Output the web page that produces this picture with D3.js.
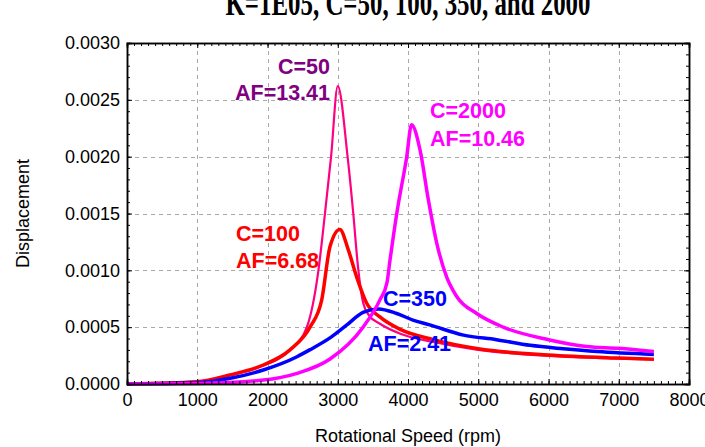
<!DOCTYPE html>
<html>
<head>
<meta charset="utf-8">
<script src="https://cdn.jsdelivr.net/npm/d3@7"></script>
<style>
  body { margin: 0; background: #fff; }
  text { font-family: "Liberation Sans", Arial, sans-serif; }
</style>
</head>
<body>
<div class="chart"></div>
<script>
// values (rpm, displacement)
var rpm50  = [0, 1000, 1370, 1895, 2320, 2560, 2725, 2818, 2905, 3000, 3140, 3221, 3285, 3363, 3450, 3600, 3900, 4360, 5000, 6000, 7000, 7500];
var disp50 = [0, 0.00002, 0.000064, 0.000152, 0.0003, 0.0005, 0.001, 0.0015, 0.002, 0.00262, 0.002, 0.0015, 0.00105, 0.00071, 0.0006, 0.00053, 0.00044, 0.00037, 0.0003, 0.000248, 0.000224, 0.000216];

var rpm100  = [0, 992, 1465, 1940, 2320, 2605, 2772, 2890, 3030, 3150, 3270, 3412, 3600, 3890, 4360, 5000, 6000, 7000, 7500];
var disp100 = [0, 0.00002, 0.00008, 0.000167, 0.0003, 0.0005, 0.00074, 0.00121, 0.00136, 0.00118, 0.00094, 0.00071, 0.00059, 0.00048, 0.00039, 0.00031, 0.000255, 0.000228, 0.000218];

var rpm350  = [0, 992, 1470, 1940, 2420, 2600, 2900, 3130, 3360, 3580, 3840, 4080, 4310, 4790, 5260, 5740, 6210, 6690, 7500];
var disp350 = [0, 0.00001, 0.00005, 0.000123, 0.00024, 0.0003, 0.00041, 0.00052, 0.00063, 0.00066, 0.00062, 0.00056, 0.00052, 0.00043, 0.00039, 0.00034, 0.00031, 0.000285, 0.00026];

var rpm2000  = [0, 1000, 1940, 2420, 2890, 3360, 3600, 3700, 3744, 3840, 3982, 4050, 4171, 4290, 4409, 4551, 4693, 4978, 5357, 6000, 6544, 7000, 7500];
var disp2000 = [0, 0.000005, 0.000035, 0.000094, 0.00022, 0.0005, 0.00074, 0.00089, 0.00109, 0.0015, 0.002, 0.00228, 0.00206, 0.00162, 0.00124, 0.00094, 0.00077, 0.00062, 0.0005, 0.00039, 0.00033, 0.000314, 0.000285];

var xTicks = [0, 1000, 2000, 3000, 4000, 5000, 6000, 7000, 8000];
var yTicks = [0, 0.0005, 0.0010, 0.0015, 0.0020, 0.0025, 0.0030];

var series = [
  { rpm: rpm50, disp: disp50, color: "#ff0080", width: 2.2 },
  { rpm: rpm100, disp: disp100, color: "#ff0000", width: 3.5 },
  { rpm: rpm350, disp: disp350, color: "#0000ff", width: 3.5 },
  { rpm: rpm2000, disp: disp2000, color: "#ff00ff", width: 3.5 }
];

var labels = [
  { lines: ["C=50", "AF=13.41"], x: 330, y: [74, 100], anchor: "end", color: "#800080" },
  { lines: ["C=2000", "AF=10.46"], x: 430, y: [118, 146], anchor: "start", color: "#ff00ff" },
  { lines: ["C=100", "AF=6.68"], x: 236, y: [241, 268], anchor: "start", color: "#ff0000" },
  { lines: ["C=350"], x: 383, y: [306], anchor: "start", color: "#0000ff" },
  { lines: ["AF=2.41"], x: 368, y: [351], anchor: "start", color: "#0000ff" }
];

var W = 705, H = 447;
var plotL = 127, plotR = 689, plotT = 43, plotB = 384;

var svg = d3.select(".chart").append("svg")
  .attr("width", W)
  .attr("height", H);

var x = d3.scaleLinear().domain([0, 8000]).range([plotL, plotR]);
var y = d3.scaleLinear().domain([0, 0.003]).range([plotB, plotT]);

// title, cut off by the top edge like the original
svg.append("text")
  .attr("x", (plotL + plotR) / 2)
  .attr("y", 15)
  .attr("text-anchor", "middle")
  .attr("textLength", 365)
  .attr("lengthAdjust", "spacingAndGlyphs")
  .style("font-family", "'Liberation Serif', 'Times New Roman', serif")
  .style("font-weight", "bold")
  .style("font-size", "36px")
  .text("K=1E05, C=50, 100, 350, and 2000");

// grid
var grid = svg.append("g")
  .attr("stroke", "#a8a8a8")
  .attr("stroke-width", 1)
  .attr("stroke-dasharray", "4,4");
grid.selectAll(".gx").data(xTicks.slice(1, -1)).enter().append("line")
  .attr("x1", d => Math.round(x(d)) + 0.5).attr("x2", d => Math.round(x(d)) + 0.5)
  .attr("y1", plotT).attr("y2", plotB);
grid.selectAll(".gy").data(yTicks.slice(1, -1)).enter().append("line")
  .attr("y1", d => Math.round(y(d)) + 0.5).attr("y2", d => Math.round(y(d)) + 0.5)
  .attr("x1", plotL).attr("x2", plotR);

// curves
var line = d3.line()
  .x(d => x(d[0]))
  .y(d => y(d[1]))
  .curve(d3.curveMonotoneX);

series.forEach(function(s) {
  svg.append("path")
    .datum(d3.zip(s.rpm, s.disp))
    .attr("fill", "none")
    .attr("stroke", s.color)
    .attr("stroke-width", s.width)
    .attr("stroke-linejoin", "round")
    .attr("d", line);
});

// axes: ticks inward on all four sides
var xMinor = d3.range(0, 8001, 100);
var yMinor = d3.range(0, 31).map(i => i * 0.0001);

svg.append("g")
  .attr("transform", "translate(0," + plotB + ")")
  .call(d3.axisBottom(x).tickValues(xMinor).tickSize(-3).tickFormat(""));
svg.append("g")
  .attr("transform", "translate(0," + plotB + ")")
  .call(d3.axisBottom(x).tickValues(xTicks).tickSize(-5).tickPadding(9).tickFormat(d3.format("d")));
svg.append("g")
  .attr("transform", "translate(0," + plotT + ")")
  .call(d3.axisTop(x).tickValues(xMinor).tickSize(-3).tickFormat(""));
svg.append("g")
  .attr("transform", "translate(0," + plotT + ")")
  .call(d3.axisTop(x).tickValues(xTicks).tickSize(-5).tickFormat(""));
svg.append("g")
  .attr("transform", "translate(" + plotL + ",0)")
  .call(d3.axisLeft(y).tickValues(yMinor).tickSize(-3).tickFormat(""));
svg.append("g")
  .attr("transform", "translate(" + plotL + ",0)")
  .call(d3.axisLeft(y).tickValues(yTicks).tickSize(-5).tickPadding(7).tickFormat(d3.format(".4f")));
svg.append("g")
  .attr("transform", "translate(" + plotR + ",0)")
  .call(d3.axisRight(y).tickValues(yMinor).tickSize(-3).tickFormat(""));
svg.append("g")
  .attr("transform", "translate(" + plotR + ",0)")
  .call(d3.axisRight(y).tickValues(yTicks).tickSize(-5).tickFormat(""));

svg.selectAll(".domain").attr("stroke", "#000").attr("stroke-width", 1.5);
svg.selectAll(".tick line").attr("stroke", "#000");
svg.selectAll(".tick text")
  .attr("fill", "#000")
  .style("font-size", "18px")
  .style("font-family", "'Liberation Sans', Arial, sans-serif");

// axis titles
svg.append("text")
  .attr("x", (plotL + plotR) / 2)
  .attr("y", 442)
  .attr("text-anchor", "middle")
  .style("font-size", "18px")
  .text("Rotational Speed (rpm)");
svg.append("text")
  .attr("transform", "translate(29," + (plotT + plotB) / 2 + ") rotate(-90)")
  .attr("text-anchor", "middle")
  .style("font-size", "18px")
  .text("Displacement");

// curve annotations
labels.forEach(function(l) {
  l.lines.forEach(function(t, i) {
    svg.append("text")
      .attr("x", l.x)
      .attr("y", l.y[i])
      .attr("text-anchor", l.anchor)
      .attr("fill", l.color)
      .style("font-weight", "bold")
      .style("font-size", "21.5px")
      .text(t);
  });
});
</script>
</body>
</html>
